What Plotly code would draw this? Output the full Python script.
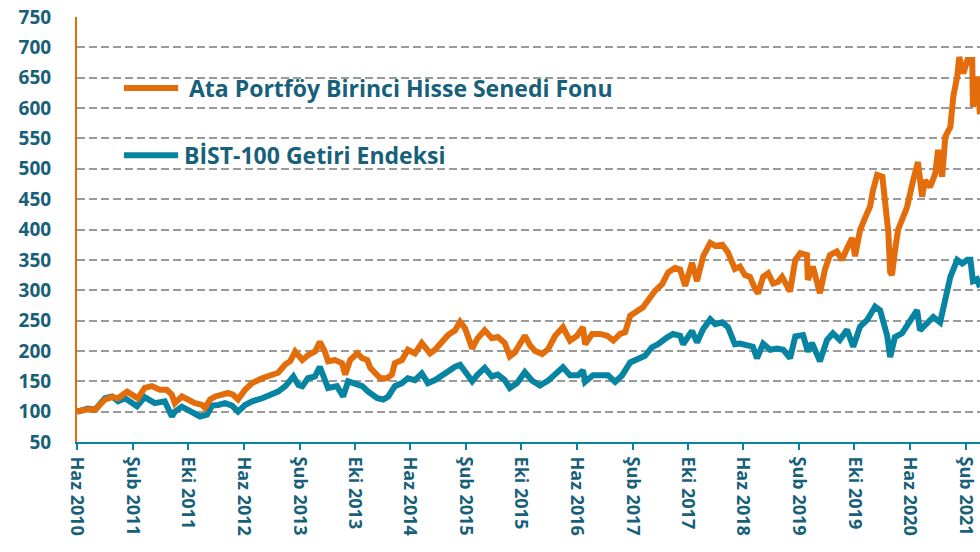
import plotly.graph_objects as go

# ---- data ----
fund_dates = ["2010-06-01","2010-07-19","2010-08-19","2010-10-02","2010-11-02","2010-11-28","2011-01-07","2011-02-03",
"2011-02-23","2011-03-25","2011-04-25","2011-05-30","2011-06-30","2011-07-22","2011-08-04","2011-09-04","2011-09-30",
"2011-11-01","2011-12-01","2011-12-14","2012-01-06","2012-01-28","2012-02-27","2012-03-24","2012-04-15","2012-05-07",
"2012-06-07","2012-07-08","2012-08-21","2012-10-04","2012-10-30","2012-12-01","2012-12-22","2013-01-13","2013-02-13",
"2013-03-10","2013-04-10","2013-05-01","2013-05-23","2013-06-06","2013-07-06","2013-08-06","2013-08-20","2013-09-11",
"2013-10-12","2013-11-03","2013-11-25","2013-12-08","2013-12-30","2014-01-21","2014-02-20","2014-03-13","2014-03-26",
"2014-04-26","2014-05-22","2014-06-22","2014-07-22","2014-08-14","2014-08-27","2014-09-18","2014-10-18","2014-11-14",
"2014-12-15","2015-01-06","2015-01-28","2015-02-28","2015-03-24","2015-04-24","2015-05-25","2015-06-20","2015-07-21",
"2015-08-12","2015-09-04","2015-10-17","2015-11-09","2015-12-01","2016-01-01","2016-01-27","2016-02-27","2016-04-01",
"2016-05-02","2016-06-02","2016-06-28","2016-07-07","2016-08-07","2016-09-11","2016-10-12","2016-11-08","2016-12-08",
"2016-12-30","2017-01-21","2017-02-21","2017-03-18","2017-04-09","2017-05-10","2017-06-10","2017-07-06","2017-08-06",
"2017-08-28","2017-09-19","2017-10-19","2017-11-10","2017-12-07","2018-01-07","2018-01-29","2018-03-01","2018-03-26",
"2018-04-25","2018-05-17","2018-06-08","2018-06-30","2018-07-22","2018-08-05","2018-08-27","2018-09-18","2018-10-10",
"2018-11-01","2018-11-18","2018-12-01","2018-12-23","2019-01-15","2019-02-06","2019-03-07","2019-03-11","2019-04-02",
"2019-04-24","2019-05-03","2019-05-25","2019-06-16","2019-07-16","2019-08-08","2019-08-30","2019-09-21","2019-10-04",
"2019-10-26","2019-11-17","2019-12-09","2019-12-22","2020-01-09","2020-02-01","2020-02-14","2020-02-27","2020-03-06",
"2020-03-14","2020-03-27","2020-04-10","2020-04-27","2020-05-19","2020-06-15","2020-07-06","2020-07-24","2020-08-06",
"2020-08-28","2020-09-20","2020-10-02","2020-10-20","2020-11-03","2020-11-25","2020-12-08","2020-12-25","2021-01-03",
"2021-01-21","2021-02-08","2021-03-01","2021-03-04","2021-03-22","2021-04-04"]
fund_values = [100,104,103,120,124,122,133,128,
122,139,142,136,136,128,114,125,120,
114,111,106,120,125,128,131,128,120,
136,147,155,161,164,178,183,199,185,
193,199,215,199,183,185,180,161,185,
196,188,185,172,163,155,155,161,180,
185,202,196,213,202,196,202,215,226,
234,248,237,204,221,234,221,223,213,
191,198,225,209,200,195,203,225,239,
217,225,239,211,228,228,225,217,228,
231,258,266,272,283,299,310,329,337,
334,307,345,315,356,378,373,375,362,
335,339,325,322,303,295,322,328,311,
314,322,311,298,350,361,358,317,339,
306,295,334,358,364,350,369,386,356,
399,419,438,465,490,487,450,395,330,
325,365,400,416,437,481,511,454,481,
470,492,531,487,553,569,619,652,684,
657,679,679,602,652,590]

index_dates = ["2010-06-01","2010-07-19","2010-08-19","2010-10-02","2010-11-02","2010-11-28","2010-12-29","2011-01-20",
"2011-02-19","2011-03-25","2011-05-08","2011-06-21","2011-07-22","2011-08-04","2011-09-04","2011-09-30","2011-11-01",
"2011-11-22","2011-12-23","2012-01-15","2012-02-10","2012-03-11","2012-04-11","2012-05-07","2012-06-07","2012-07-08",
"2012-08-21","2012-10-04","2012-10-30","2012-12-01","2013-01-05","2013-01-27","2013-02-13","2013-03-10","2013-04-10",
"2013-05-01","2013-05-23","2013-06-06","2013-07-15","2013-08-11","2013-09-02","2013-10-03","2013-11-03","2013-11-29",
"2014-01-08","2014-02-03","2014-02-25","2014-03-26","2014-04-26","2014-05-22","2014-06-22","2014-07-22","2014-08-18",
"2014-09-18","2014-10-18","2014-11-14","2014-12-15","2015-01-06","2015-01-28","2015-02-28","2015-03-24","2015-04-24",
"2015-05-25","2015-06-20","2015-07-21","2015-08-12","2015-09-13","2015-10-17","2015-11-18","2015-12-22","2016-01-27",
"2016-03-06","2016-04-01","2016-05-02","2016-06-07","2016-06-28","2016-07-07","2016-08-11","2016-09-20","2016-10-16",
"2016-11-16","2016-12-17","2017-01-21","2017-02-26","2017-03-27","2017-04-26","2017-05-23","2017-07-01","2017-07-28",
"2017-08-28","2017-09-10","2017-10-19","2017-11-10","2017-12-07","2018-01-07","2018-01-29","2018-03-01","2018-03-26",
"2018-04-25","2018-05-17","2018-06-17","2018-07-13","2018-07-31","2018-08-27","2018-09-27","2018-10-27","2018-11-23",
"2018-12-23","2019-01-15","2019-02-18","2019-03-11","2019-03-29","2019-04-24","2019-05-03","2019-06-03","2019-06-29",
"2019-07-29","2019-08-30","2019-09-26","2019-10-26","2019-11-26","2019-12-17","2019-12-31","2020-01-22","2020-02-05",
"2020-02-22","2020-03-06","2020-03-18","2020-03-27","2020-04-27","2020-06-01","2020-07-02","2020-07-15","2020-08-15",
"2020-09-11","2020-10-11","2020-11-03","2020-11-25","2020-12-25","2021-01-16","2021-02-08","2021-02-21","2021-03-04",
"2021-03-22","2021-04-04"]
index_values = [100,105,103,122,125,117,122,117,
109,124,114,117,92,100,108,103,95,
92,95,110,111,114,110,100,111,117,
122,128,133,142,158,144,142,155,158,
174,155,139,142,125,150,147,142,133,
122,120,125,142,147,155,152,163,147,
152,158,166,174,177,166,150,161,172,
158,161,152,139,147,165,151,143,151,
165,173,160,160,168,149,160,160,160,
149,160,181,187,192,206,211,222,228,
225,211,233,214,236,252,244,247,239,
211,212,210,207,188,212,202,204,202,
188,224,226,199,213,191,183,218,229,
218,235,207,240,251,262,273,267,251,
225,190,207,223,229,251,267,234,245,
256,247,287,322,350,344,350,350,315,
318,305]

tick_vals = ["2010-06-01","2011-02-01","2011-10-01","2012-06-01","2013-02-01","2013-10-01","2014-06-01","2015-02-01",
"2015-10-01","2016-06-01","2017-02-01","2017-10-01","2018-06-01","2019-02-01","2019-10-01","2020-06-01","2021-02-01"]
tick_text = ["Haz 2010","Şub 2011","Eki 2011","Haz 2012","Şub 2013","Eki 2013","Haz 2014","Şub 2015",
"Eki 2015","Haz 2016","Şub 2017","Eki 2017","Haz 2018","Şub 2019","Eki 2019","Haz 2020","Şub 2021"]

series_names = ["Ata Portföy Birinci Hisse Senedi Fonu", "BİST-100 Getiri Endeksi"]

ORANGE = "#E36C0B"
TEAL = "#0884A3"
TEXT = "#17607A"
FONT = "Open Sans"

fig = go.Figure()
fig.add_trace(go.Scatter(x=index_dates, y=index_values, mode="lines", name=series_names[1],
                         line=dict(color=TEAL, width=6), showlegend=False))
fig.add_trace(go.Scatter(x=fund_dates, y=fund_values, mode="lines", name=series_names[0],
                         line=dict(color=ORANGE, width=6), showlegend=False))

# legend drawn manually
legend_items = [(series_names[0], ORANGE, 0.833, 0.122), (series_names[1], TEAL, 0.675, 0.116)]
for name, col, yy, tx in legend_items:
    fig.add_shape(type="line", xref="paper", yref="paper", x0=0.052, x1=0.112, y0=yy, y1=yy,
                  line=dict(color=col, width=6))
    fig.add_annotation(xref="paper", yref="paper", x=tx, y=yy, text=name, showarrow=False,
                       xanchor="left", yanchor="middle",
                       font=dict(family=FONT, size=23, color=TEXT, weight=700))

fig.update_layout(
    width=980, height=552,
    margin=dict(l=77, r=0, t=17, b=110),
    paper_bgcolor="white", plot_bgcolor="white",
    showlegend=False,
)
fig.update_xaxes(
    type="date", range=["2010-06-01", "2021-04-04"],
    tickmode="array", tickvals=tick_vals, ticktext=tick_text, tickangle=90,
    showgrid=False, zeroline=False,
    showline=True, linecolor=TEAL, linewidth=2,
    ticks="outside", tickcolor=TEAL, tickwidth=2, ticklen=6,
    tickfont=dict(family=FONT, size=18, color=TEXT, weight=700),
    ticklabelstandoff=3,
)
fig.update_yaxes(
    range=[50, 750], tick0=50, dtick=50,
    showgrid=True, gridcolor="#9A9A9A", gridwidth=2, griddash="8px,4px",
    zeroline=False, showline=True, linecolor=ORANGE, linewidth=2,
    ticks="", tickfont=dict(family=FONT, size=19, color=TEXT, weight=700),
    ticklabelstandoff=20,
)

fig.write_html("out.html")
